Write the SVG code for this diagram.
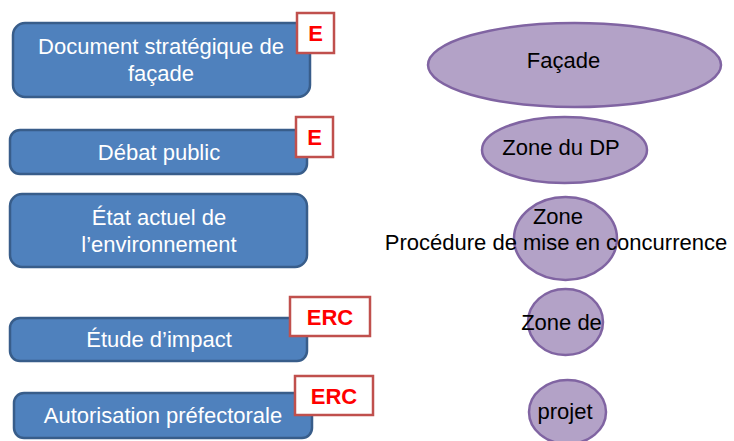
<svg xmlns="http://www.w3.org/2000/svg" width="734" height="441" viewBox="0 0 734 441">
<style>
.box{fill:#4F81BD;stroke:#385D8A;stroke-width:2.5}
.bt{font-family:"Liberation Sans",Arial,sans-serif;font-size:22px;fill:#FFFFFF;text-anchor:middle}
.badge{fill:#FFFFFF;stroke:#C0504D;stroke-width:2.5}
.bg{font-family:"Liberation Sans",Arial,sans-serif;font-size:22px;font-weight:bold;fill:#FF0000;text-anchor:middle}
.ell{fill:#B3A2C7;stroke:#8064A2;stroke-width:2.5}
.et{font-family:"Liberation Sans",Arial,sans-serif;font-size:22px;fill:#000000;text-anchor:middle}
</style>
<rect width="734" height="441" fill="#FFFFFF"/>
<g id="connectors"></g>
<g id="n-document">
<rect class="box" x="13" y="23" width="297" height="74" rx="12"/>
<text class="bt" x="161" y="54">Document stratégique de</text>
<text class="bt" x="161" y="81">façade</text>
</g>
<g id="b-e1">
<rect class="badge" x="297" y="13" width="37" height="40"/>
<text class="bg" x="315.5" y="41">E</text>
</g>
<g id="n-debat">
<rect class="box" x="10" y="130" width="297" height="44" rx="10"/>
<text class="bt" x="159" y="160">Débat public</text>
</g>
<g id="b-e2">
<rect class="badge" x="296" y="117" width="37" height="40"/>
<text class="bg" x="314.5" y="145">E</text>
</g>
<g id="n-etat">
<rect class="box" x="10" y="194" width="297" height="73" rx="12"/>
<text class="bt" x="159" y="225">État actuel de</text>
<text class="bt" x="159" y="252">l’environnement</text>
</g>
<g id="n-etude">
<rect class="box" x="10" y="318" width="297" height="43" rx="10"/>
<text class="bt" x="159" y="347">Étude d’impact</text>
</g>
<g id="b-erc1">
<rect class="badge" x="290" y="297" width="80" height="39"/>
<text class="bg" x="330" y="325">ERC</text>
</g>
<g id="n-autorisation">
<rect class="box" x="14" y="393" width="298" height="45" rx="10"/>
<text class="bt" x="163" y="423">Autorisation préfectorale</text>
</g>
<g id="b-erc2">
<rect class="badge" x="295" y="376" width="78" height="39"/>
<text class="bg" x="334" y="404">ERC</text>
</g>
<g id="e-facade">
<ellipse class="ell" cx="574.5" cy="65" rx="146.5" ry="42"/>
<text class="et" x="563.5" y="68">Façade</text>
</g>
<g id="e-dp">
<ellipse class="ell" cx="564.5" cy="150" rx="82.5" ry="33"/>
<text class="et" x="561" y="155">Zone du DP</text>
</g>
<g id="e-zone">
<ellipse class="ell" cx="565.5" cy="238.5" rx="51.5" ry="41.5"/>
<text class="et" x="558" y="224">Zone</text>
<text class="et" x="556" y="250">Procédure de mise en concurrence</text>
</g>
<g id="e-zonede">
<ellipse class="ell" cx="565.5" cy="322" rx="37.5" ry="33"/>
<text class="et" x="561.5" y="330">Zone de</text>
</g>
<g id="e-projet">
<ellipse class="ell" cx="567.5" cy="412" rx="38.5" ry="32"/>
<text class="et" x="565" y="419">projet</text>
</g>
</svg>
